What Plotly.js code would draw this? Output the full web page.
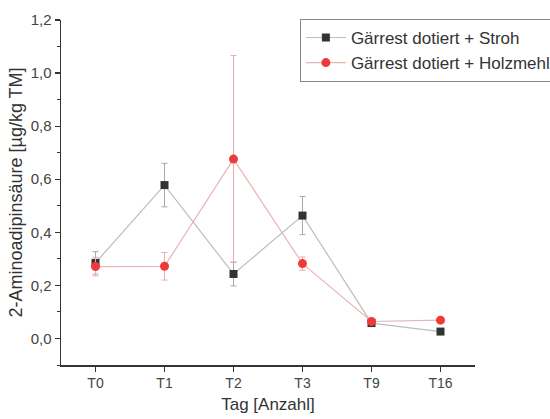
<!DOCTYPE html>
<html>
<head>
<meta charset="utf-8">
<script src="https://cdn.plot.ly/plotly-3.0.1.min.js"></script>
<style>html,body{margin:0;padding:0;background:#fff;}#chart{width:550px;height:419px;}</style>
</head>
<body>
<div id="chart"></div>
<script>
var categories = ["T0", "T1", "T2", "T3", "T9", "T16"];
var strohValues = [0.285, 0.578, 0.243, 0.463, 0.058, 0.026];
var strohErrors = [0.042, 0.082, 0.045, 0.072, 0.008, 0.004];
var holzValues = [0.271, 0.272, 0.676, 0.282, 0.064, 0.069];
var holzErrors = [0.035, 0.052, 0.39, 0.025, 0.006, 0.005];
var strohName = "Gärrest dotiert + Stroh";
var holzName = "Gärrest dotiert + Holzmehl";

var traces = [
  {
    x: categories, y: strohValues, name: strohName, type: "scatter", mode: "lines+markers",
    line: {color: "#bdbdbd", width: 1.2},
    marker: {symbol: "square", size: 8, color: "#333333"},
    error_y: {type: "data", array: strohErrors, visible: true, color: "#a8a8a8", thickness: 1, width: 3}
  },
  {
    x: categories, y: holzValues, name: holzName, type: "scatter", mode: "lines+markers",
    line: {color: "#e8b4b4", width: 1.2},
    marker: {symbol: "circle", size: 9, color: "#f03a3a"},
    error_y: {type: "data", array: holzErrors, visible: true, color: "#eeaaaa", thickness: 1, width: 3}
  }
];

var layout = {
  width: 550, height: 419,
  margin: {l: 61, r: 75, t: 20, b: 54, autoexpand: false},
  paper_bgcolor: "#ffffff", plot_bgcolor: "#ffffff",
  separators: ",.",
  font: {family: "Liberation Sans, Arial, sans-serif", color: "#333333", size: 12},
  showlegend: true,
  legend: {
    x: 0.577, y: 1.003, xanchor: "left", yanchor: "top",
    bordercolor: "#888888", borderwidth: 1, bgcolor: "#ffffff",
    font: {size: 17, color: "#333333"}, tracegroupgap: 0, itemwidth: 40
  },
  xaxis: {
    type: "category", range: [-0.5, 5.5], automargin: false,
    showgrid: false, zeroline: false, showline: true, linecolor: "#333333", linewidth: 1.5,
    ticks: "outside", ticklen: 5, tickwidth: 1.2, tickcolor: "#333333",
    minor: {ticks: "outside", ticklen: 3, tickwidth: 1, tickcolor: "#333333", dtick: 1, tick0: 0.5},
    tickfont: {size: 14, color: "#444444"},
    title: {text: "Tag [Anzahl]", font: {size: 17, color: "#333333"}, standoff: 8}
  },
  yaxis: {
    range: [-0.1, 1.2], dtick: 0.2, tick0: 0, tickformat: ".1f", automargin: false,
    showgrid: false, zeroline: false, showline: true, linecolor: "#333333", linewidth: 1.5,
    ticks: "outside", ticklen: 5, tickwidth: 1.2, tickcolor: "#333333",
    minor: {ticks: "outside", ticklen: 3, tickwidth: 1, tickcolor: "#333333", dtick: 0.1},
    tickfont: {size: 15, color: "#444444"},
    title: {text: "2-Aminoadipinsäure [µg/kg TM]", font: {size: 18, color: "#333333"}, standoff: 3}
  }
};

Plotly.newPlot("chart", traces, layout, {displayModeBar: false, staticPlot: true});
</script>
</body>
</html>
